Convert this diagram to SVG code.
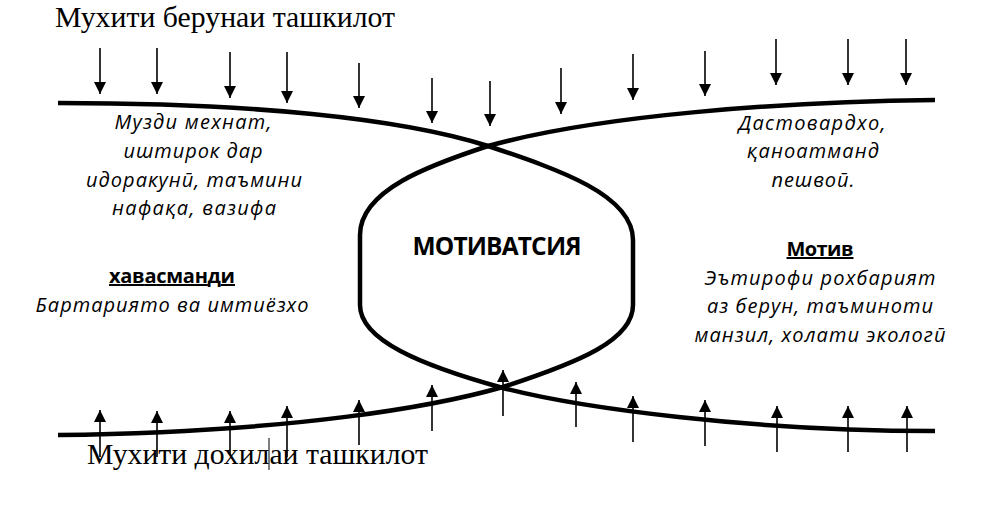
<svg xmlns="http://www.w3.org/2000/svg" width="997" height="513" viewBox="0 0 997 513">
<style>
.curve{fill:none;stroke:#000;stroke-width:4.5}
.arr{stroke:#000;stroke-width:1.6;marker-end:url(#ah)}
.serif{font-family:"Liberation Serif","Times New Roman",serif;font-size:30px;fill:#000}
.it{font-family:"Open Sans","DejaVu Sans",sans-serif;font-style:italic;font-size:20px;fill:#000;text-anchor:middle}
.bd{font-family:"Open Sans","DejaVu Sans",sans-serif;font-weight:bold;font-size:20px;fill:#000;text-anchor:middle;text-decoration:underline}
.title{font-family:"Open Sans","DejaVu Sans",sans-serif;font-weight:bold;font-size:24.5px;fill:#000;text-anchor:middle}
</style>
<defs>
<marker id="ah" viewBox="0 0 10 10" refX="10" refY="5" markerWidth="12" markerHeight="12" markerUnits="userSpaceOnUse" orient="auto">
<path d="M0,0 L10,5 L0,10 z" fill="#000"/>
</marker>
</defs>
<rect width="997" height="513" fill="#fff"/>

<g id="shape">
<path class="curve" d="M58,103 C250,103 400,118 488,146 C560,170 633,195 633,240 L633,305 C633,340 580,362 503,387 C440,405 300,432 58,435"/>
<path class="curve" d="M935,100 C780,102 600,115 488,146 C430,165 360,190 360,235 L360,305 C360,340 420,365 503,388 C580,408 750,431 935,431"/>
</g>

<g id="connectors">
<line class="arr" x1="100" y1="48" x2="100" y2="94"/>
<line class="arr" x1="157" y1="48" x2="157" y2="94"/>
<line class="arr" x1="230" y1="52" x2="230" y2="98"/>
<line class="arr" x1="287" y1="52" x2="287" y2="103"/>
<line class="arr" x1="359" y1="63" x2="359" y2="108"/>
<line class="arr" x1="432" y1="78" x2="432" y2="123"/>
<line class="arr" x1="490" y1="81" x2="490" y2="126"/>
<line class="arr" x1="561" y1="68" x2="561" y2="114"/>
<line class="arr" x1="633" y1="54" x2="633" y2="100"/>
<line class="arr" x1="705" y1="51" x2="705" y2="96"/>
<line class="arr" x1="776" y1="39" x2="776" y2="85"/>
<line class="arr" x1="848" y1="39" x2="848" y2="85"/>
<line class="arr" x1="906" y1="39" x2="906" y2="85"/>

<line class="arr" x1="100" y1="457" x2="100" y2="410"/>
<line class="arr" x1="157" y1="457" x2="157" y2="411"/>
<line class="arr" x1="230" y1="455" x2="230" y2="411"/>
<line class="arr" x1="287" y1="457" x2="287" y2="406"/>
<line class="arr" x1="359" y1="445" x2="359" y2="400"/>
<line class="arr" x1="432" y1="431" x2="432" y2="385"/>
<line class="arr" x1="503" y1="416" x2="503" y2="370"/>
<line class="arr" x1="576" y1="427" x2="576" y2="382"/>
<line class="arr" x1="633" y1="442" x2="633" y2="396"/>
<line class="arr" x1="705" y1="446" x2="705" y2="400"/>
<line class="arr" x1="777" y1="452" x2="777" y2="406"/>
<line class="arr" x1="848" y1="452" x2="848" y2="406"/>
<line class="arr" x1="907" y1="452" x2="907" y2="406"/>
</g>

<line x1="269" y1="438" x2="269" y2="470" stroke="#000" stroke-width="1"/>

<g id="outer-env">
<text class="serif" x="55" y="27" textLength="340" lengthAdjust="spacingAndGlyphs">Мухити берунаи ташкилот</text>
</g>
<g id="inner-env">
<text class="serif" x="87" y="464" textLength="341" lengthAdjust="spacingAndGlyphs">Мухити дохилаи ташкилот</text>
</g>

<g id="motivation">
<text class="title" x="497" y="255" textLength="169">МОТИВАТСИЯ</text>
</g>

<g id="left-top">
<text class="it" x="193" y="129" textLength="157">Музди мехнат,</text>
<text class="it" x="193" y="158" textLength="139">иштирок дар</text>
<text class="it" x="194" y="187" textLength="216">идоракунӣ, таъмини</text>
<text class="it" x="194" y="215" textLength="164">нафақа, вазифа</text>
</g>

<g id="left-bottom">
<text class="bd" x="172" y="283" textLength="126">хавасманди</text>
<text class="it" x="172" y="312" textLength="273">Бартариято ва имтиёзхо</text>
</g>

<g id="right-top">
<text class="it" x="812" y="130" textLength="147">Дастовардхо,</text>
<text class="it" x="813" y="158" textLength="132">қаноатманд</text>
<text class="it" x="813" y="187" textLength="83">пешвоӣ.</text>
</g>

<g id="right-bottom">
<text class="bd" x="820" y="256" textLength="67">Мотив</text>
<text class="it" x="820" y="285" textLength="231">Эътирофи рохбарият</text>
<text class="it" x="820" y="313" textLength="226">аз берун, таъминоти</text>
<text class="it" x="820" y="342" textLength="251">манзил, холати экологӣ</text>
</g>
</svg>
